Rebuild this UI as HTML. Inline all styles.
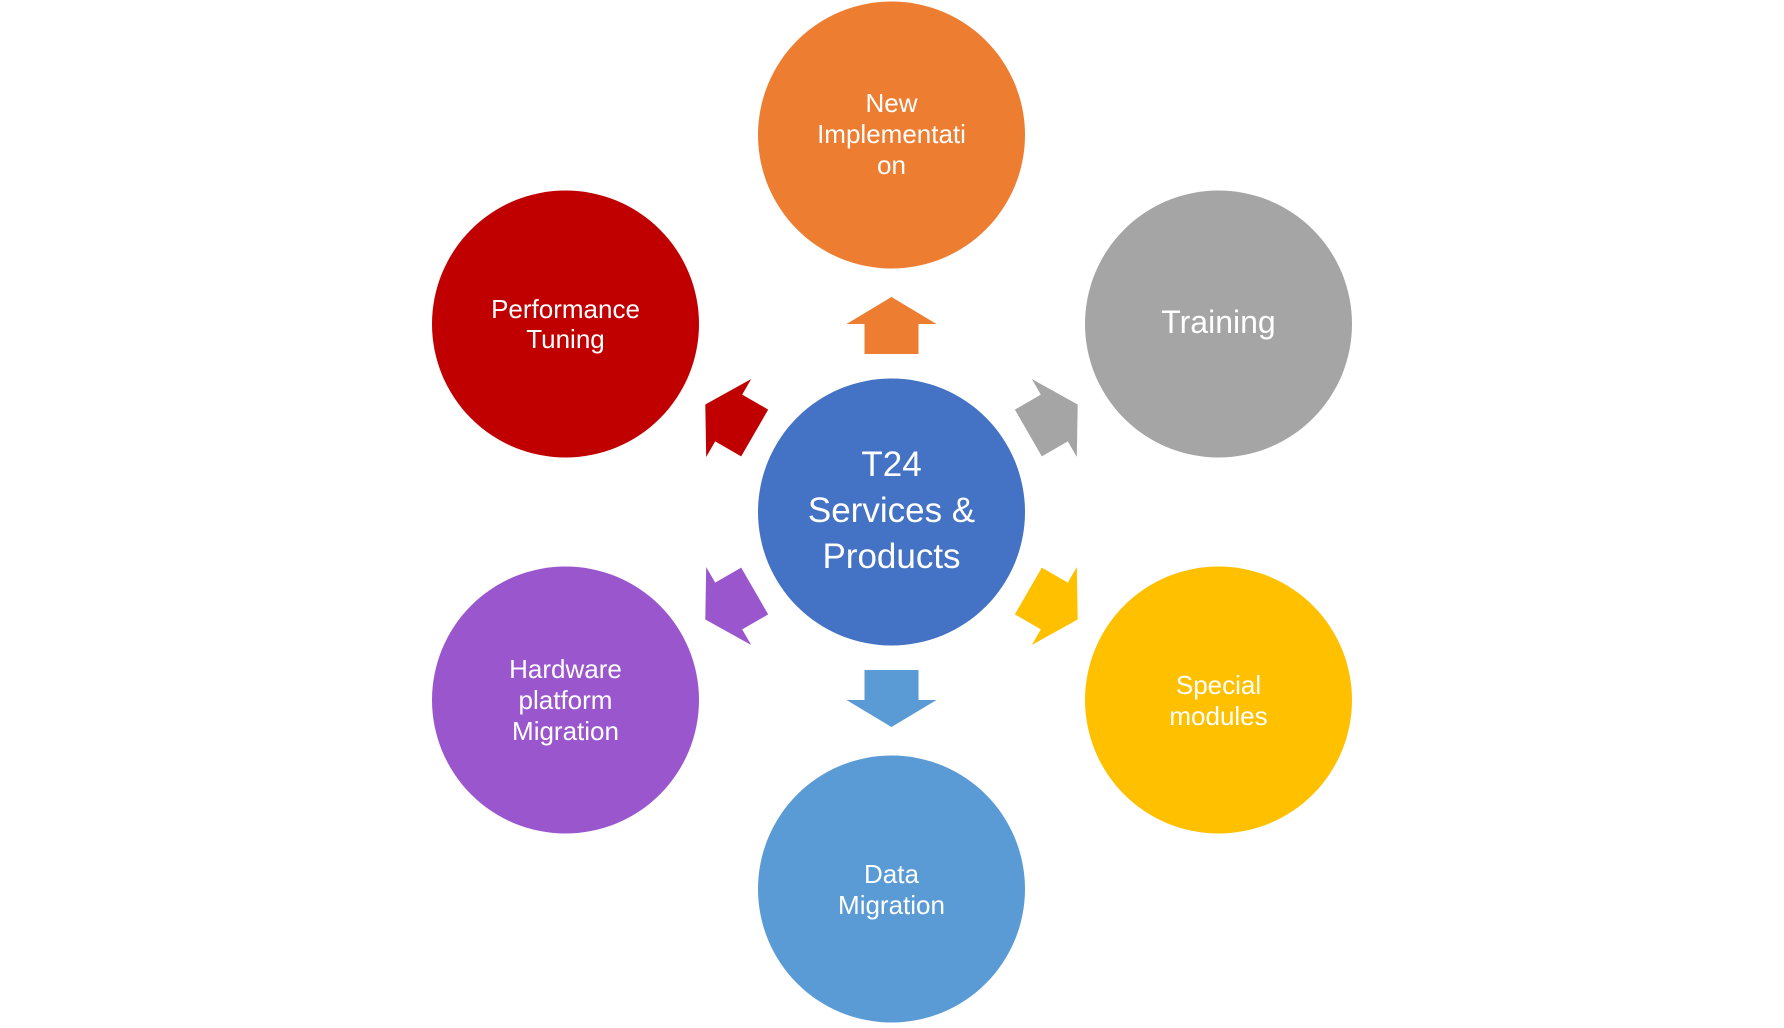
<!DOCTYPE html>
<html><head><style>
html,body{margin:0;padding:0;background:#fff;}
svg text{font-family:"Liberation Sans",sans-serif;fill:#fff;text-anchor:middle;}
</style></head><body>
<svg width="1784" height="1023" viewBox="0 0 1784 1023" xmlns="http://www.w3.org/2000/svg">
<defs>
<polygon id="ar" points="0,-215 45,-188 27,-188 27,-158 -27,-158 -27,-188 -45,-188"/>
</defs>
<g transform="translate(-2.5,-1)">
<circle cx="894" cy="136" r="133.5" fill="#ED7D31"/>
<circle cx="1221" cy="325" r="133.5" fill="#A5A5A5"/>
<circle cx="1221" cy="701" r="133.5" fill="#FFC000"/>
<circle cx="894" cy="890" r="133.5" fill="#5B9BD5"/>
<circle cx="568" cy="701" r="133.5" fill="#9A57CD"/>
<circle cx="568" cy="325" r="133.5" fill="#C00000"/>
<circle cx="894" cy="513" r="133.5" fill="#4472C4"/>
<g transform="translate(894,513)">
<use href="#ar" fill="#ED7D31"/>
<use href="#ar" fill="#A5A5A5" transform="rotate(60)"/>
<use href="#ar" fill="#FFC000" transform="rotate(120)"/>
<use href="#ar" fill="#5B9BD5" transform="rotate(180)"/>
<use href="#ar" fill="#9A57CD" transform="rotate(240)"/>
<use href="#ar" fill="#C00000" transform="rotate(300)"/>
</g>
<g font-size="26">
<text x="894" y="113">New</text>
<text x="894" y="144">Implementati</text>
<text x="894" y="175">on</text>
<text x="1221" y="334" font-size="32">Training</text>
<text x="568" y="319">Performance</text>
<text x="568" y="349">Tuning</text>
<text x="1221" y="695">Special</text>
<text x="1221" y="726">modules</text>
<text x="568" y="679">Hardware</text>
<text x="568" y="710">platform</text>
<text x="568" y="741">Migration</text>
<text x="894" y="884">Data</text>
<text x="894" y="915">Migration</text>
</g>
<g font-size="35">
<text x="894" y="477">T24</text>
<text x="894" y="523">Services &amp;</text>
<text x="894" y="569">Products</text>
</g>
</g>
</svg>
</body></html>
